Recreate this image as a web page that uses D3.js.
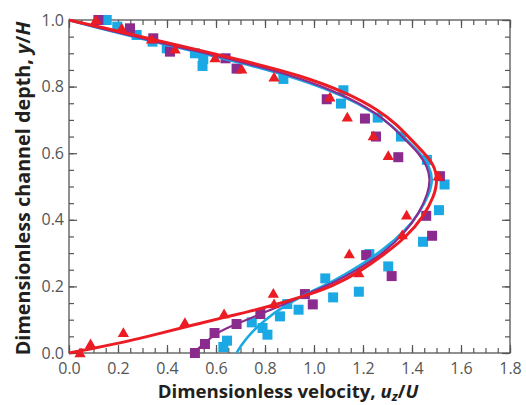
<!DOCTYPE html>
<html><head><meta charset="utf-8">
<script src="https://cdn.jsdelivr.net/npm/d3@7/dist/d3.min.js"></script>
<style>
html,body{margin:0;padding:0;background:#fff;}
svg{display:block;}
</style></head>
<body>
<svg id="chart" width="526" height="405"></svg>
<script>
// ---- data (x = u_z/U, y = y/H) ----
const xTicks = [0.0, 0.2, 0.4, 0.6, 0.8, 1.0, 1.2, 1.4, 1.6, 1.8];
const yTicks = [0.0, 0.2, 0.4, 0.6, 0.8, 1.0];

const redPts = [[0.045,0.0],[0.088,0.027],[0.222,0.061],[0.473,0.091],[0.633,0.117],[0.837,0.147],[0.834,0.179],[1.144,0.297],[1.183,0.24],[1.36,0.354],[1.378,0.414],[1.507,0.531],[1.303,0.592],[1.242,0.652],[1.136,0.708],[1.065,0.768],[0.837,0.828],[0.705,0.852],[0.596,0.886],[0.433,0.912],[0.337,0.942],[0.215,0.975],[0.11,1.0]];
const purplePts = [[0.514,0.0],[0.555,0.027],[0.594,0.06],[0.684,0.087],[0.781,0.117],[0.963,0.177],[0.995,0.146],[1.213,0.294],[1.317,0.231],[1.482,0.352],[1.458,0.412],[1.514,0.531],[1.344,0.588],[1.253,0.65],[1.208,0.704],[1.052,0.762],[0.684,0.854],[0.639,0.885],[0.412,0.905],[0.344,0.945],[0.249,0.975],[0.12,1.0]];
const cyanPts = [[0.63,0.018],[0.645,0.037],[0.746,0.092],[0.79,0.075],[0.81,0.055],[0.861,0.11],[0.891,0.147],[0.937,0.13],[1.046,0.224],[1.078,0.167],[1.183,0.184],[1.226,0.297],[1.303,0.26],[1.445,0.334],[1.51,0.429],[1.533,0.506],[1.461,0.58],[1.355,0.65],[1.26,0.707],[1.12,0.789],[1.11,0.749],[0.875,0.823],[0.548,0.883],[0.545,0.862],[0.514,0.9],[0.399,0.915],[0.341,0.935],[0.276,0.955],[0.197,0.98],[0.154,1.0]];

const redCurve = [[0,0],[0.1,0.014],[0.235,0.034],[0.371,0.059],[0.507,0.084],[0.616,0.104],[0.807,0.137],[0.943,0.167],[1.079,0.201],[1.188,0.245],[1.283,0.294],[1.378,0.349],[1.446,0.409],[1.49,0.469],[1.505,0.52],[1.49,0.565],[1.45,0.6],[1.395,0.642],[1.338,0.686],[1.265,0.729],[1.133,0.782],[0.943,0.834],[0.739,0.873],[0.535,0.909],[0.303,0.948],[0.127,0.979],[0,1.0]];
const cyanCurve = [[0.684,0.0],[0.70,0.02],[0.739,0.059],[0.807,0.104],[0.875,0.139],[0.956,0.174],[1.079,0.215],[1.188,0.262],[1.283,0.31],[1.37,0.365],[1.43,0.42],[1.472,0.48],[1.485,0.52],[1.472,0.56],[1.433,0.6],[1.378,0.64],[1.32,0.682],[1.25,0.72],[1.12,0.773],[0.93,0.825],[0.73,0.866],[0.53,0.903],[0.3,0.943],[0.125,0.975],[0,1.0]];
const purpleCurve = [[0.505,0.0],[0.54,0.02],[0.603,0.063],[0.684,0.087],[0.78,0.117],[0.875,0.145],[0.97,0.177],[1.079,0.21],[1.188,0.255],[1.283,0.3],[1.37,0.36],[1.43,0.42],[1.465,0.48],[1.475,0.52],[1.463,0.56],[1.428,0.6],[1.373,0.64],[1.316,0.682],[1.254,0.721],[1.125,0.774],[0.935,0.828],[0.735,0.868],[0.53,0.905],[0.3,0.944],[0.125,0.976],[0,1.0]];

const colors = {cyan:"#1aa9e4", purple:"#8b2b8d", red:"#ec1c24"};

// ---- layout ----
const L = 69, R = 510, T = 20, B = 353;
const svg = d3.select("#chart");
const x = d3.scaleLinear().domain([0, 1.8]).range([L, R]);
const y = d3.scaleLinear().domain([0, 1.0]).range([B, T]);

const axisColor = "#555";
const minorX = d3.range(0, 1.8001, 0.05);
const minorY = d3.range(0, 1.0001, 0.05);

function addAxis(axis, transform) {
  const g = svg.append("g").attr("transform", transform).call(axis);
  g.select(".domain").remove();
  g.selectAll(".tick line").attr("stroke", axisColor).attr("stroke-width", 1.2);
  return g;
}

// bottom
addAxis(d3.axisBottom(x).tickValues(minorX).tickSize(-5).tickFormat(""), `translate(0,${B})`);
const gbM = addAxis(d3.axisBottom(x).tickValues(xTicks).tickSize(-8).tickPadding(10).tickFormat(d3.format(".1f")), `translate(0,${B})`);
gbM.selectAll(".tick text").attr("fill", "#555").style("font-family", "'Open Sans', sans-serif").style("font-size", "16px");
// top
addAxis(d3.axisTop(x).tickValues(minorX).tickSize(-5).tickFormat(""), `translate(0,${T})`);
addAxis(d3.axisTop(x).tickValues(xTicks).tickSize(-8).tickFormat(""), `translate(0,${T})`);
// left
addAxis(d3.axisLeft(y).tickValues(minorY).tickSize(-5).tickFormat(""), `translate(${L},0)`);
const glM = addAxis(d3.axisLeft(y).tickValues(yTicks).tickSize(-8).tickPadding(5).tickFormat(d3.format(".1f")), `translate(${L},0)`);
glM.selectAll(".tick text").attr("fill", "#555").style("font-family", "'Open Sans', sans-serif").style("font-size", "16px");
// right
addAxis(d3.axisRight(y).tickValues(minorY).tickSize(-5).tickFormat(""), `translate(${R},0)`);
addAxis(d3.axisRight(y).tickValues(yTicks).tickSize(-8).tickFormat(""), `translate(${R},0)`);

// frame
svg.append("rect").attr("x", L).attr("y", T).attr("width", R - L).attr("height", B - T)
  .attr("fill", "none").attr("stroke", axisColor).attr("stroke-width", 1.3);

// squares
const sq = 10;
function squares(data, color) {
  svg.append("g").selectAll("rect").data(data).join("rect")
    .attr("x", d => x(d[0]) - sq / 2).attr("y", d => y(d[1]) - sq / 2)
    .attr("width", sq).attr("height", sq).attr("fill", color);
}
squares(cyanPts, colors.cyan);
squares(purplePts, colors.purple);

// curves
const line = d3.line().x(d => x(d[0])).y(d => y(d[1])).curve(d3.curveBasis);
svg.append("path").datum(cyanCurve).attr("d", line).attr("fill", "none").attr("stroke", colors.cyan).attr("stroke-width", 2.6);
svg.append("path").datum(purpleCurve).attr("d", line).attr("fill", "none").attr("stroke", colors.purple).attr("stroke-width", 2.2);
svg.append("path").datum(redCurve).attr("d", line).attr("fill", "none").attr("stroke", colors.red).attr("stroke-width", 3);

// triangles
const tri = d3.symbol().type(d3.symbolTriangle).size(55);
svg.append("g").selectAll("path").data(redPts).join("path")
  .attr("d", tri).attr("transform", d => `translate(${x(d[0])},${y(d[1]) + 1})`).attr("fill", colors.red);

// axis titles (condensed look via horizontal scaling to the reference length)
const titleFont = "'Open Sans', sans-serif";
const xtG = svg.append("g");
const xt = xtG.append("text").attr("x", 0).attr("y", 0).attr("text-anchor", "middle")
  .attr("fill", "#231f20").style("font-family", titleFont).style("font-size", "17px").style("font-weight", "bold");
xt.append("tspan").text("Dimensionless velocity, ");
xt.append("tspan").style("font-style", "italic").text("u");
xt.append("tspan").style("font-style", "italic").style("font-size", "12px").attr("dy", 3).text("z");
xt.append("tspan").attr("dy", -3).text("/");
xt.append("tspan").style("font-style", "italic").text("U");
const xw = xt.node().getComputedTextLength();
xtG.attr("transform", `translate(288,398) scale(${261 / xw},1)`);

const ytG = svg.append("g");
const yt = ytG.append("text").attr("x", 0).attr("y", 0).attr("text-anchor", "middle")
  .attr("fill", "#231f20").style("font-family", titleFont).style("font-size", "19px").style("font-weight", "bold");
yt.append("tspan").text("Dimensionless channel depth, ");
yt.append("tspan").style("font-style", "italic").text("y");
yt.append("tspan").text("/");
yt.append("tspan").style("font-style", "italic").text("H");
const yw = yt.node().getComputedTextLength();
ytG.attr("transform", `translate(30,${(T + B) / 2 + 2}) rotate(-90) scale(${334 / yw},1)`);
</script>
</body></html>
